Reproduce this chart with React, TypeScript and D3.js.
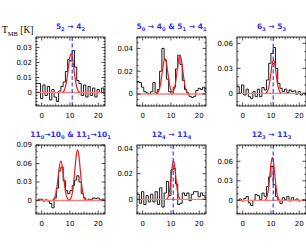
import * as d3 from "d3";
import React, { useEffect, useRef } from "react";

// channel centres (km/s), one value per channel in every spectrum
const velocities = [
  -1.6, -0.8, 0, 0.8, 1.6, 2.4, 3.2, 4.0, 4.8, 5.6, 6.4, 7.2, 8.0, 8.8, 9.6, 10.4,
  11.2, 12.0, 12.8, 13.6, 14.4, 15.2, 16.0, 16.8, 17.6, 18.4, 19.2, 20.0, 20.8, 21.6, 22.4,
];
const chanWidth = 0.8;
const vSys = 10.8;

const titles = [
  "5_2 → 4_2",
  "5_0 → 4_0 & 5_1 → 4_1",
  "6_3 → 5_3",
  "11_0→10_0 & 11_1→10_1",
  "12_4 → 11_4",
  "12_3 → 11_3",
];
const showSys = [true, false, true, false, true, true];

const spec1 = [
  0.006, 0.006, -0.004, 0.005, -0.002, 0.004, -0.005, 0.002, -0.003, -0.006, 0.001, 0.004, 0.007,
  0.014, 0.022, 0.021, 0.028, 0.017, 0.008, 0.006, -0.002, 0.005, -0.003, 0.004, -0.002, 0.003,
  -0.003, 0.002, 0.0, 0.003, -0.001,
];
const spec2 = [
  0.011, 0.01, 0.006, 0.002, 0.001, 0.0, 0.002, 0.01, 0.001, 0.004, 0.02, 0.04, 0.03, 0.013, 0.002,
  0.0, 0.006, 0.022, 0.034, 0.026, 0.012, 0.004, 0.001, -0.002, -0.003, -0.002, 0.003, 0.005, 0.004,
  0.006, 0.002,
];
const spec3 = [
  0.008, 0.0, 0.01, -0.002, 0.005, -0.004, -0.006, 0.002, -0.004, 0.005, -0.004, 0.007, 0.004, 0.016,
  0.036, 0.048, 0.055, 0.03, 0.012, 0.006, 0.002, 0.005, 0.001, 0.004, 0.002, 0.003, -0.001, 0.002,
  -0.002, 0.0, -0.002,
];
const spec4 = [
  0.0, 0.002, 0.002, -0.001, 0.001, -0.001, -0.005, -0.012, 0.004, 0.02, 0.048, 0.054, 0.032, 0.016,
  0.011, 0.016, 0.024, 0.033, 0.04, 0.03, 0.011, 0.004, 0.0, 0.002, 0.001, 0.004, 0.003, 0.004,
  0.001, 0.002, 0.0,
];
const spec5 = [
  0.004, -0.003, 0.006, -0.004, 0.003, -0.002, 0.004, -0.002, 0.006, -0.004, 0.009, -0.006, 0.005,
  0.014, 0.003, 0.023, 0.024, 0.012, -0.004, -0.003, 0.005, 0.003, 0.005, -0.001, 0.004, 0.006,
  0.006, 0.002, 0.005, 0.003, 0.001,
];
const spec6 = [
  0.0, 0.002, -0.001, 0.003, 0.006, -0.004, -0.008, 0.0, 0.009, 0.007, 0.001, 0.011, 0.006, 0.021,
  0.036, 0.052, 0.024, 0.006, 0.0, -0.005, 0.004, 0.001, 0.006, -0.001, 0.004, 0.0, 0.002, -0.001,
  0.0, 0.001, 0.0,
];

// fitted line profiles (red)
const model1V = [7.4, 8.0, 8.5, 9.0, 9.5, 10.0, 10.4, 10.8, 11.3, 11.8, 12.3, 12.8, 13.4];
const model1T = [0, 0.0015, 0.0045, 0.0098, 0.0173, 0.024, 0.026, 0.024, 0.0173, 0.0098, 0.0045, 0.0015, 0];
const model2V = [
  4.9, 5.4, 5.9, 6.4, 6.9, 7.4, 7.9, 8.4, 8.9, 9.4, 9.9, 10.5, 11.2, 11.7, 12.2, 12.7, 13.2, 13.7,
  14.2, 14.7, 15.2, 15.7, 16.2,
];
const model2T = [
  0.0003, 0.0014, 0.0042, 0.0101, 0.0188, 0.0274, 0.031, 0.0274, 0.0188, 0.0101, 0.0042, 0.0019,
  0.0046, 0.011, 0.0206, 0.03, 0.034, 0.03, 0.0206, 0.011, 0.0046, 0.0015, 0.0004,
];
const model3V = [8.2, 8.65, 9.1, 9.55, 10.0, 10.45, 10.9, 11.35, 11.8, 12.25, 12.7, 13.15, 13.6];
const model3T = [0.0004, 0.0018, 0.0054, 0.013, 0.0243, 0.0353, 0.04, 0.0353, 0.0243, 0.013, 0.0054, 0.0018, 0.0004];
const model4aV = [3.95, 4.43, 4.9, 5.38, 5.85, 6.33, 6.8, 7.28, 7.75, 8.23, 8.7, 9.18, 9.65];
const model4aT = [0.0007, 0.0028, 0.0086, 0.0208, 0.0388, 0.0564, 0.064, 0.0564, 0.0388, 0.0208, 0.0086, 0.0028, 0.0007];
const model4bV = [9.85, 10.33, 10.8, 11.28, 11.75, 12.23, 12.7, 13.18, 13.65, 14.13, 14.6, 15.08, 15.55];
const model4bT = [0.0009, 0.0036, 0.0111, 0.0266, 0.0498, 0.0723, 0.082, 0.0723, 0.0498, 0.0266, 0.0111, 0.0036, 0.0009];
const model5V = [8.5, 8.9, 9.3, 9.7, 10.1, 10.5, 10.9, 11.3, 11.7, 12.1, 12.5, 12.9, 13.3];
const model5T = [0.0003, 0.0013, 0.0041, 0.0097, 0.0182, 0.0265, 0.03, 0.0265, 0.0182, 0.0097, 0.0041, 0.0013, 0.0003];
const model6V = [7.95, 8.38, 8.8, 9.23, 9.65, 10.08, 10.5, 10.93, 11.35, 11.78, 12.2, 12.63, 13.05];
const model6T = [0.0007, 0.0029, 0.0089, 0.0214, 0.0401, 0.0582, 0.066, 0.0582, 0.0401, 0.0214, 0.0089, 0.0029, 0.0007];

// axes
const xDomain = [-2, 22.4];
const xTicks = [0, 10, 20];
const yDomains = [
  [-0.009, 0.037],
  [-0.0105, 0.05],
  [-0.0152, 0.0676],
  [-0.022, 0.09],
  [-0.0114, 0.0424],
  [-0.021, 0.085],
];
const yTicks = [
  [0, 0.01, 0.02, 0.03],
  [0, 0.02, 0.04],
  [0, 0.03, 0.06],
  [0, 0.03, 0.06, 0.09],
  [0, 0.02, 0.04],
  [0, 0.03, 0.06],
];
const yMinor = [0.002, 0.005, 0.01, 0.01, 0.005, 0.01];

const spectra = [spec1, spec2, spec3, spec4, spec5, spec6];
const models = [
  [[model1V, model1T]],
  [[model2V, model2T]],
  [[model3V, model3T]],
  [[model4aV, model4aT], [model4bV, model4bT]],
  [[model5V, model5T]],
  [[model6V, model6T]],
];

const W = 306;
const H = 249;
const colX = [36, 137, 237];
const rowY = [37, 145];
const fw = 69;
const fh = 69;
const BLUE = "#2e2eff";

// "5_2" -> 5 with subscript 2, "T_{MB}" -> T with subscript MB
function richText(text, str, size, subSize) {
  const parts = str.split(/(_\{[^}]*\}|_.)/).filter((s) => s.length);
  let down = false;
  parts.forEach((p) => {
    if (p[0] === "_") {
      const s = p[1] === "{" ? p.slice(2, -1) : p.slice(1);
      text.append("tspan").attr("dy", down ? 0 : size * 0.3).attr("font-size", subSize).text(s);
      down = true;
    } else {
      text.append("tspan").attr("dy", down ? -size * 0.3 : 0).attr("font-size", size).text(p);
      down = false;
    }
  });
}

function multiples(lo, hi, step) {
  const out = [];
  for (let k = Math.ceil(lo / step - 1e-9); k <= Math.floor(hi / step + 1e-9); k++) out.push(k * step);
  return out;
}

export default function App() {
  const ref = useRef(null);

  useEffect(() => {
    const svg = d3.select(ref.current);
    svg.selectAll("*").remove();

    spectra.forEach((spec, i) => {
      const left = colX[i % 3];
      const top = rowY[Math.floor(i / 3)];
      const x = d3.scaleLinear().domain(xDomain).range([left, left + fw]);
      const y = d3.scaleLinear().domain(yDomains[i]).range([top + fh, top]);

      const clipId = "clip" + i;
      svg.append("clipPath").attr("id", clipId)
        .append("rect").attr("x", left).attr("y", top).attr("width", fw).attr("height", fh);

      const g = svg.append("g").attr("clip-path", `url(#${clipId})`);

      // observed spectrum as histogram
      const steps = [];
      spec.forEach((t, j) => {
        steps.push([velocities[j] - chanWidth / 2, t]);
        steps.push([velocities[j] + chanWidth / 2, t]);
      });
      const line = d3.line().x((d) => x(d[0])).y((d) => y(d[1]));
      g.append("path").attr("d", line(steps)).attr("fill", "none")
        .attr("stroke", "#1a1a1a").attr("stroke-width", 1);

      // baseline of the fit
      g.append("line").attr("x1", x(xDomain[0])).attr("x2", x(xDomain[1]))
        .attr("y1", y(0)).attr("y2", y(0))
        .attr("stroke", "#ff7d7d").attr("stroke-width", 1.4);

      // fitted components
      const smooth = d3.line().x((d) => x(d[0])).y((d) => y(d[1])).curve(d3.curveMonotoneX);
      models[i].forEach(([vs, ts]) => {
        g.append("path").attr("d", smooth(vs.map((v, k) => [v, ts[k]])))
          .attr("fill", "none").attr("stroke", "#ee1c1c").attr("stroke-width", 1.2);
      });

      // systemic velocity
      if (showSys[i]) {
        g.append("line").attr("x1", x(vSys)).attr("x2", x(vSys))
          .attr("y1", top).attr("y2", top + fh)
          .attr("stroke", BLUE).attr("stroke-width", 1.1).attr("stroke-dasharray", "4,2.5");
      }

      // frame
      svg.append("rect").attr("x", left).attr("y", top).attr("width", fw).attr("height", fh)
        .attr("fill", "none").attr("stroke", "#000").attr("stroke-width", 0.8);

      const ticks = svg.append("g").attr("stroke", "#000").attr("stroke-width", 0.7);
      multiples(xDomain[0], xDomain[1], 1).forEach((v) => {
        const len = v % 10 === 0 ? 3.5 : v % 5 === 0 ? 2.5 : 1.6;
        ticks.append("line").attr("x1", x(v)).attr("x2", x(v)).attr("y1", top + fh).attr("y2", top + fh - len);
        ticks.append("line").attr("x1", x(v)).attr("x2", x(v)).attr("y1", top).attr("y2", top + len);
      });
      multiples(yDomains[i][0], yDomains[i][1], yMinor[i]).forEach((v) => {
        const major = yTicks[i].some((t) => Math.abs(t - v) < 1e-9);
        const len = major ? 3.5 : 1.6;
        ticks.append("line").attr("x1", left).attr("x2", left + len).attr("y1", y(v)).attr("y2", y(v));
        ticks.append("line").attr("x1", left + fw).attr("x2", left + fw - len).attr("y1", y(v)).attr("y2", y(v));
      });

      const labels = svg.append("g").attr("font-family", "DejaVu Sans, sans-serif")
        .attr("font-size", 7).attr("fill", "#000");
      xTicks.forEach((v) => {
        labels.append("text").attr("x", x(v)).attr("y", top + fh + 11.5)
          .attr("text-anchor", "middle").text(String(v));
      });
      yTicks[i].forEach((v) => {
        labels.append("text").attr("x", left - 4).attr("y", y(v)).attr("dy", "0.35em")
          .attr("text-anchor", "end").text(v === 0 ? "0" : d3.format(".2f")(v));
      });

      const title = svg.append("text").attr("x", left + fw / 2).attr("y", top - 8)
        .attr("text-anchor", "middle").attr("font-family", "DejaVu Sans, sans-serif")
        .attr("font-weight", "bold").attr("fill", BLUE);
      richText(title, titles[i], 7.5, 5.2);
    });

    const ylab = svg.append("text").attr("x", 2).attr("y", 33)
      .attr("font-family", "Liberation Serif, serif").attr("fill", "#000");
    richText(ylab, "T_{MB} [K]", 9.5, 6.5);
  }, []);

  return (
    <svg
      ref={ref}
      width={W}
      height={H}
      viewBox={`0 0 ${W} ${H}`}
      style={{ position: "absolute", left: 0, top: 0, background: "#fff" }}
    />
  );
}
